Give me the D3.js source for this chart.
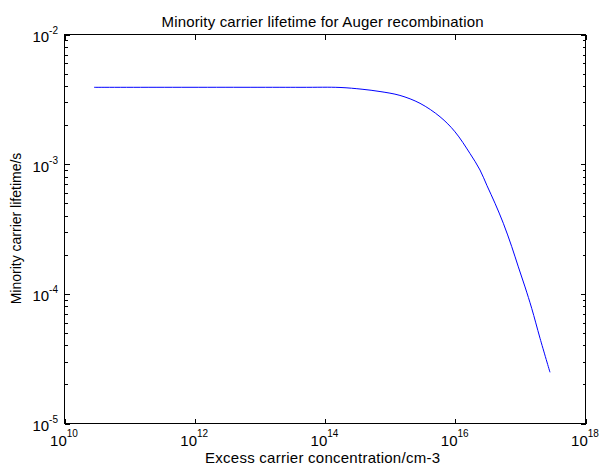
<!DOCTYPE html>
<html>
<head>
<meta charset="utf-8">
<script src="https://cdn.jsdelivr.net/npm/d3@7"></script>
<style>
  body { margin: 0; background: #fff; }
  text { font-family: "Liberation Sans", Arial, sans-serif; fill: #000; }
</style>
</head>
<body>
<div id="chart"></div>
<script>
// excess carrier concentration (cm^-3)
const conc = [2.89e10, 4.21e13, 1.73e14, 3.77e14, 7.12e14, 1.44e15, 2.93e15, 5.94e15,
    1.01e16, 1.71e16, 2.44e16, 3.13e16, 4.15e16, 5.57e16, 7.50e16, 9.47e16,
    1.20e17, 1.52e17, 2.04e17, 2.90e17];
// minority carrier lifetime (s)
const tau = [3.88e-3, 3.88e-3, 3.87e-3, 3.75e-3, 3.60e-3, 3.36e-3, 2.92e-3, 2.30e-3,
    1.76e-3, 1.20e-3, 8.94e-4, 6.76e-4, 4.95e-4, 3.47e-4, 2.29e-4, 1.60e-4,
    1.12e-4, 7.66e-5, 4.50e-5, 2.46e-5];

const xTickExp = [10, 12, 14, 16, 18];
const yTickExp = [-5, -4, -3, -2];

const titleText = "Minority carrier lifetime for Auger recombination";
const xLabel = "Excess carrier concentration/cm-3";
const yLabel = "Minority carrier lifetime/s";

const W = 600, H = 468;
const m = {left: 64, right: 15, top: 34, bottom: 45};
const fs = 15;

const svg = d3.select("#chart").append("svg")
    .attr("width", W)
    .attr("height", H);

const x = d3.scaleLog().domain([1e10, 1e18]).range([m.left, W - m.right]);
const y = d3.scaleLog().domain([1e-5, 1e-2]).range([H - m.bottom, m.top]);

// minor ticks on y: 2..9 per decade
let yMinor = [];
for(let e = -5; e < -2; e++)
{
    for(let k = 2; k <= 9; k++) yMinor.push(k * Math.pow(10, e));
}
const yMajor = yTickExp.map(e => Math.pow(10, e));
const xMajor = xTickExp.map(e => Math.pow(10, e));

const g = svg.append("g").attr("shape-rendering", "crispEdges");

// plot box
g.append("rect")
    .attr("x", x.range()[0] + 0.5)
    .attr("y", y.range()[1] + 0.5)
    .attr("width", x.range()[1] - x.range()[0])
    .attr("height", y.range()[0] - y.range()[1])
    .attr("fill", "none")
    .attr("stroke", "#000")
    .attr("stroke-width", 1);

const axisStyle = sel => {
    sel.select(".domain").remove();
    sel.selectAll("text").remove();
    sel.selectAll("line").attr("stroke", "#000");
};

// x major ticks, pointing inward on bottom and top
g.append("g")
    .attr("transform", `translate(0.5,${y.range()[0] + 0.5})`)
    .call(d3.axisBottom(x).tickValues(xMajor).tickSize(-5))
    .call(axisStyle);
g.append("g")
    .attr("transform", `translate(0.5,${y.range()[1] + 0.5})`)
    .call(d3.axisTop(x).tickValues(xMajor).tickSize(-5))
    .call(axisStyle);

// y ticks on left and right
g.append("g")
    .attr("transform", `translate(${x.range()[0] + 0.5},0.5)`)
    .call(d3.axisLeft(y).tickValues(yMajor).tickSize(-5))
    .call(axisStyle);
g.append("g")
    .attr("transform", `translate(${x.range()[0] + 0.5},0.5)`)
    .call(d3.axisLeft(y).tickValues(yMinor).tickSize(-3))
    .call(axisStyle);
g.append("g")
    .attr("transform", `translate(${x.range()[1] + 0.5},0.5)`)
    .call(d3.axisRight(y).tickValues(yMajor).tickSize(-5))
    .call(axisStyle);
g.append("g")
    .attr("transform", `translate(${x.range()[1] + 0.5},0.5)`)
    .call(d3.axisRight(y).tickValues(yMinor).tickSize(-3))
    .call(axisStyle);

// tick labels as 10^n
const xl = svg.append("g").selectAll("text")
    .data(xTickExp)
    .join("text")
    .attr("x", d => x(Math.pow(10, d)))
    .attr("y", y.range()[0] + 23)
    .attr("text-anchor", "middle")
    .attr("font-size", fs);
xl.append("tspan").text("10");
xl.append("tspan").attr("dy", -9).attr("font-size", 10).text(d => d);

const yl = svg.append("g").selectAll("text")
    .data(yTickExp)
    .join("text")
    .attr("x", x.range()[0] - 6)
    .attr("y", d => y(Math.pow(10, d)) + 8)
    .attr("text-anchor", "end")
    .attr("font-size", fs);
yl.append("tspan").text("10");
yl.append("tspan").attr("dy", -8).attr("font-size", 10).text(d => d);

// curve
const line = d3.line()
    .x((d, i) => x(conc[i]))
    .y((d, i) => y(tau[i]))
    .curve(d3.curveCatmullRom.alpha(0.5));

svg.append("path")
    .datum(conc)
    .attr("d", line)
    .attr("fill", "none")
    .attr("stroke", "#0000ff")
    .attr("stroke-width", 1);

// labels
const cx = (x.range()[0] + x.range()[1]) / 2;
svg.append("text")
    .attr("x", cx - 2)
    .attr("y", 27)
    .attr("text-anchor", "middle")
    .attr("font-size", fs)
    .attr("textLength", 322)
    .attr("lengthAdjust", "spacing")
    .text(titleText);

svg.append("text")
    .attr("x", cx - 2)
    .attr("y", 463)
    .attr("text-anchor", "middle")
    .attr("font-size", fs)
    .attr("textLength", 235)
    .attr("lengthAdjust", "spacing")
    .text(xLabel);

svg.append("text")
    .attr("transform", `translate(21,${(y.range()[0] + y.range()[1]) / 2}) rotate(-90)`)
    .attr("text-anchor", "middle")
    .attr("font-size", 14)
    .text(yLabel);
</script>
</body>
</html>
